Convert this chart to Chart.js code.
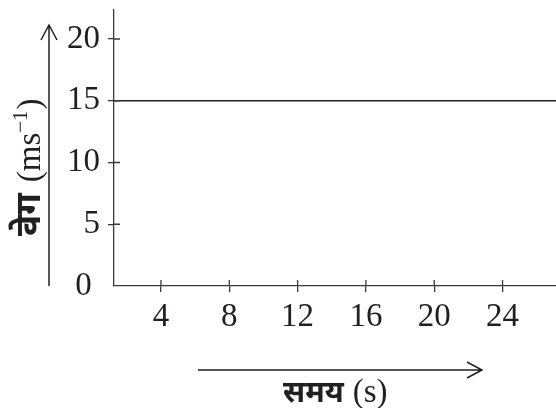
<!DOCTYPE html>
<html>
<head>
<meta charset="utf-8">
<title>वेग-समय ग्राफ</title>
<script src="https://cdn.jsdelivr.net/npm/chart.js@4.4.1/dist/chart.umd.min.js"></script>
<style>
  html, body { margin: 0; padding: 0; background: #fff; }
  #graph { display: block; }
</style>
</head>
<body>
<canvas id="graph" width="556" height="408"></canvas>
<script>
// values
const timeTicks = [4, 8, 12, 16, 20, 24];
const velocityTicks = [0, 5, 10, 15, 20];
const lineTimes = [0, 28];
const lineVelocity = [15, 15];

const ink = "#231f20";
const axisInk = "#3a3a3a";
const serif = "'Liberation Serif', 'Times New Roman', serif";
const deva = "'Noto Sans Devanagari', 'Noto Serif Devanagari', 'Lohit Devanagari', 'Liberation Serif', sans-serif";

// arrows, axis titles and the inner half of the crossing ticks
const axisDecor = {
  id: "axisDecor",
  afterDraw(chart) {
    const { ctx, chartArea, scales: { x, y } } = chart;
    ctx.save();
    ctx.strokeStyle = axisInk;
    ctx.lineWidth = 1.3;
    ctx.beginPath();
    x.ticks.forEach((t) => {
      const px = x.getPixelForValue(t.value);
      ctx.moveTo(px, chartArea.bottom);
      ctx.lineTo(px, chartArea.bottom - 6);
    });
    y.ticks.forEach((t) => {
      if (t.value === 0) return;
      const py = y.getPixelForValue(t.value);
      ctx.moveTo(chartArea.left, py);
      ctx.lineTo(chartArea.left + 6, py);
    });
    ctx.stroke();

    // y arrow
    ctx.strokeStyle = ink;
    ctx.lineWidth = 1.5;
    ctx.beginPath();
    ctx.moveTo(49, chartArea.bottom);
    ctx.lineTo(49, 25);
    ctx.moveTo(41, 40);
    ctx.lineTo(49, 25);
    ctx.lineTo(57, 40);
    ctx.stroke();

    // x arrow
    ctx.beginPath();
    ctx.moveTo(198, 370);
    ctx.lineTo(481, 370);
    ctx.moveTo(467, 362);
    ctx.lineTo(482, 370);
    ctx.lineTo(467, 378);
    ctx.stroke();

    ctx.fillStyle = ink;
    ctx.textBaseline = "alphabetic";
    ctx.textAlign = "left";

    // y title, reading bottom to top
    ctx.save();
    ctx.translate(40, 236);
    ctx.rotate(-Math.PI / 2);
    let cx = 0;
    ctx.font = "bold 35px " + deva;
    ctx.fillText("वेग", cx, 0);
    cx += ctx.measureText("वेग").width + 11;
    ctx.font = "33px " + serif;
    ctx.fillText("(ms", cx, 0);
    cx += ctx.measureText("(ms").width;
    ctx.font = "21px " + serif;
    ctx.fillText("−1", cx, -13);
    cx += ctx.measureText("−1").width + 1;
    ctx.font = "33px " + serif;
    ctx.fillText(")", cx, 0);
    ctx.restore();

    // x title
    cx = 283;
    ctx.font = "bold 30px " + deva;
    ctx.fillText("समय", cx, 402);
    cx += ctx.measureText("समय").width + 9;
    ctx.font = "33px " + serif;
    ctx.fillText("(s)", cx, 402);

    ctx.restore();
  }
};

const tickColor = (c) => (c.tick && c.tick.value === 0 ? "rgba(0,0,0,0)" : axisInk);

new Chart(document.getElementById("graph"), {
  type: "line",
  data: {
    datasets: [
      {
        data: lineTimes.map((t, i) => ({ x: t, y: lineVelocity[i] })),
        borderColor: ink,
        borderWidth: 1.4,
        pointRadius: 0,
        fill: false,
        tension: 0,
      },
    ],
  },
  options: {
    responsive: false,
    animation: false,
    events: [],
    layout: { padding: { top: 10, left: 0, right: 0, bottom: 0 } },
    plugins: {
      legend: { display: false },
      tooltip: { enabled: false },
    },
    scales: {
      x: {
        type: "linear",
        min: 1.25,
        max: 27.13,
        afterBuildTicks: (s) => {
          s.ticks = timeTicks.map((v) => ({ value: v }));
        },
        afterFit: (s) => {
          s.height = 122;
          s.paddingLeft = 0;
          s.paddingRight = 0;
        },
        border: { display: true, color: axisInk, width: 1.3 },
        grid: { drawOnChartArea: false, drawTicks: true, tickLength: 6, color: axisInk, lineWidth: 1.3 },
        ticks: { font: { family: serif, size: 33, lineHeight: 1 }, color: ink, padding: 9, maxRotation: 0, autoSkip: false },
      },
      y: {
        type: "linear",
        min: 0,
        max: 22.35,
        afterBuildTicks: (s) => {
          s.ticks = velocityTicks.map((v) => ({ value: v }));
        },
        afterFit: (s) => {
          s.width = 114;
          s.paddingTop = 0;
          s.paddingBottom = 0;
        },
        border: { display: true, color: axisInk, width: 1.3 },
        grid: { drawOnChartArea: false, drawTicks: true, tickLength: 6, color: tickColor, lineWidth: 1.3 },
        ticks: {
          font: { family: serif, size: 33, lineHeight: 1 },
          color: ink,
          padding: 8,
          autoSkip: false,
          callback: (v) => (v === 0 ? "0 " : String(v)),
        },
      },
    },
  },
  plugins: [axisDecor],
});
</script>
</body>
</html>
